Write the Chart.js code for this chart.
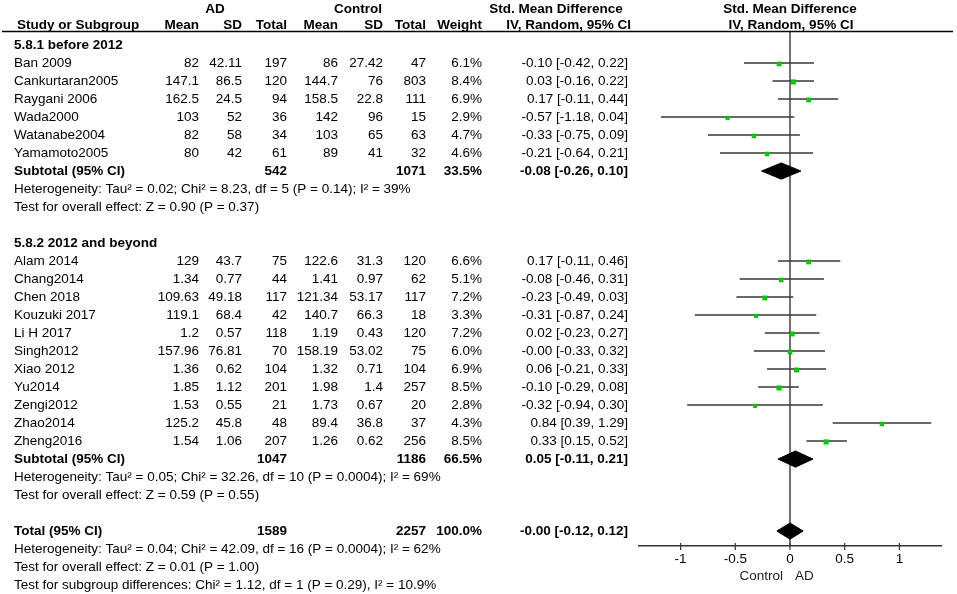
<!DOCTYPE html>
<html>
<head>
<meta charset="utf-8">
<title>Forest plot</title>
<script src="https://cdn.jsdelivr.net/npm/chart.js@4/dist/chart.umd.min.js"></script>
<style>
  html, body { margin: 0; padding: 0; background: #fff; }
  #wrap { width: 957px; height: 594px; position: relative; }
</style>
</head>
<body>
<div id="wrap"><canvas id="forest"></canvas></div>
<script>
// 研究数据
const studyNames = ['Ban 2009', 'Cankurtaran2005', 'Raygani 2006', 'Wada2000', 'Watanabe2004', 'Yamamoto2005',
  'Alam 2014', 'Chang2014', 'Chen 2018', 'Kouzuki 2017', 'Li H 2017', 'Singh2012', 'Xiao 2012', 'Yu2014',
  'Zengi2012', 'Zhao2014', 'Zheng2016'];
const studyRows = [1, 2, 3, 4, 5, 6, 12, 13, 14, 15, 16, 17, 18, 19, 20, 21, 22];
const adMean = ['82', '147.1', '162.5', '103', '82', '80', '129', '1.34', '109.63', '119.1', '1.2', '157.96', '1.36', '1.85', '1.53', '125.2', '1.54'];
const adSD = ['42.11', '86.5', '24.5', '52', '58', '42', '43.7', '0.77', '49.18', '68.4', '0.57', '76.81', '0.62', '1.12', '0.55', '45.8', '1.06'];
const adTotal = [197, 120, 94, 36, 34, 61, 75, 44, 117, 42, 118, 70, 104, 201, 21, 48, 207];
const ctlMean = ['86', '144.7', '158.5', '142', '103', '89', '122.6', '1.41', '121.34', '140.7', '1.19', '158.19', '1.32', '1.98', '1.73', '89.4', '1.26'];
const ctlSD = ['27.42', '76', '22.8', '96', '65', '41', '31.3', '0.97', '53.17', '66.3', '0.43', '53.02', '0.71', '1.4', '0.67', '36.8', '0.62'];
const ctlTotal = [47, 803, 111, 15, 63, 32, 120, 62, 117, 18, 120, 75, 104, 257, 20, 37, 256];
const weights = [6.1, 8.4, 6.9, 2.9, 4.7, 4.6, 6.6, 5.1, 7.2, 3.3, 7.2, 6.0, 6.9, 8.5, 2.8, 4.3, 8.5];
const smd = [-0.10, 0.03, 0.17, -0.57, -0.33, -0.21, 0.17, -0.08, -0.23, -0.31, 0.02, -0.00, 0.06, -0.10, -0.32, 0.84, 0.33];
const ciLow = [-0.42, -0.16, -0.11, -1.18, -0.75, -0.64, -0.11, -0.46, -0.49, -0.87, -0.23, -0.33, -0.21, -0.29, -0.94, 0.39, 0.15];
const ciHigh = [0.22, 0.22, 0.44, 0.04, 0.09, 0.21, 0.46, 0.31, 0.03, 0.24, 0.27, 0.32, 0.33, 0.08, 0.30, 1.29, 0.52];

// 合并结果（小计 / 总计）
const pooledLabels = ['Subtotal (95% CI)', 'Subtotal (95% CI)', 'Total (95% CI)'];
const pooledRows = [7, 23, 27];
const pooledAD = [542, 1047, 1589];
const pooledCtl = [1071, 1186, 2257];
const pooledWeight = ['33.5%', '66.5%', '100.0%'];
const pooledSmd = [-0.08, 0.05, -0.00];
const pooledLow = [-0.26, -0.11, -0.12];
const pooledHigh = [0.10, 0.21, 0.12];

// 分组标题与说明文字
const groupTitles = ['5.8.1 before 2012', '5.8.2 2012 and beyond'];
const groupRows = [0, 11];
const noteTexts = [
  'Heterogeneity: Tau\u00b2 = 0.02; Chi\u00b2 = 8.23, df = 5 (P = 0.14); I\u00b2 = 39%',
  'Test for overall effect: Z = 0.90 (P = 0.37)',
  'Heterogeneity: Tau\u00b2 = 0.05; Chi\u00b2 = 32.26, df = 10 (P = 0.0004); I\u00b2 = 69%',
  'Test for overall effect: Z = 0.59 (P = 0.55)',
  'Heterogeneity: Tau\u00b2 = 0.04; Chi\u00b2 = 42.09, df = 16 (P = 0.0004); I\u00b2 = 62%',
  'Test for overall effect: Z = 0.01 (P = 1.00)',
  'Test for subgroup differences: Chi\u00b2 = 1.12, df = 1 (P = 0.29), I\u00b2 = 10.9%'
];
const noteRows = [8, 9, 24, 25, 28, 29, 30];

// 坐标轴
const xTicks = [-1, -0.5, 0, 0.5, 1];
const xMin = -1.38;
const xMax = 1.38;
const yMin = -0.78;
const yMax = 27.83;

const FONT = '"Liberation Sans", Arial, sans-serif';
const FONT_SIZE = 13.5;

function fmt(v) {
  return (v < 0 || Object.is(v, -0) ? '-' : '') + Math.abs(v).toFixed(2);
}
function ciText(est, lo, hi) {
  return fmt(est) + ' [' + fmt(lo) + ', ' + fmt(hi) + ']';
}

// CI 线段（用 null 断开）
const ciSegments = [];
studyRows.forEach((row, i) => {
  ciSegments.push({ x: ciLow[i], y: row }, { x: ciHigh[i], y: row }, { x: ciHigh[i], y: null });
});

const pointData = studyRows.map((row, i) => ({ x: smd[i], y: row + 0.05 }));

const diamondSets = pooledRows.map((row, i) => ({
  type: 'line',
  order: 2,
  data: [
    { x: pooledLow[i], y: row },
    { x: pooledSmd[i], y: row - 0.45 },
    { x: pooledHigh[i], y: row },
    { x: pooledSmd[i], y: row + 0.45 },
    { x: pooledLow[i], y: row }
  ],
  borderColor: '#000',
  backgroundColor: '#000',
  borderWidth: 1,
  pointRadius: 0,
  fill: 'shape',
  tension: 0
}));

// 表格列（右对齐的 x 坐标）
const colX = { name: 14, adMean: 199, adSD: 242, adTotal: 287, ctlMean: 338, ctlSD: 383, ctlTotal: 426, weight: 482, ci: 628 };

const tablePlugin = {
  id: 'forestTable',
  afterDraw(chart) {
    const ctx = chart.ctx;
    const ys = chart.scales.y;
    const xs = chart.scales.x;
    const rowY = (r) => ys.getPixelForValue(r);

    ctx.save();
    ctx.fillStyle = '#000';
    ctx.textBaseline = 'middle';

    const text = (str, x, y, align, bold) => {
      ctx.font = (bold ? 'bold ' : '') + FONT_SIZE + 'px ' + FONT;
      ctx.textAlign = align;
      ctx.fillText(str, x, y);
    };

    // 表头
    const h1 = 9;
    const h2 = 25;
    text('AD', 215, h1, 'center', true);
    text('Control', 358, h1, 'center', true);
    text('Std. Mean Difference', 556, h1, 'center', true);
    text('Std. Mean Difference', 790, h1, 'center', true);
    text('Study or Subgroup', 17, h2, 'left', true);
    text('Mean', colX.adMean, h2, 'right', true);
    text('SD', colX.adSD, h2, 'right', true);
    text('Total', colX.adTotal, h2, 'right', true);
    text('Mean', colX.ctlMean, h2, 'right', true);
    text('SD', colX.ctlSD, h2, 'right', true);
    text('Total', colX.ctlTotal, h2, 'right', true);
    text('Weight', colX.weight, h2, 'right', true);
    text('IV, Random, 95% CI', colX.ci + 3, h2, 'right', true);
    text('IV, Random, 95% CI', 791, h2, 'center', true);

    ctx.strokeStyle = '#000';
    ctx.lineWidth = 1.5;
    ctx.beginPath();
    ctx.moveTo(2, 31.5);
    ctx.lineTo(953, 31.5);
    ctx.stroke();

    // 分组标题
    groupTitles.forEach((t, i) => text(t, colX.name, rowY(groupRows[i]), 'left', true));

    // 研究行
    studyNames.forEach((name, i) => {
      const y = rowY(studyRows[i]);
      text(name, colX.name, y, 'left', false);
      text(adMean[i], colX.adMean, y, 'right', false);
      text(adSD[i], colX.adSD, y, 'right', false);
      text(String(adTotal[i]), colX.adTotal, y, 'right', false);
      text(ctlMean[i], colX.ctlMean, y, 'right', false);
      text(ctlSD[i], colX.ctlSD, y, 'right', false);
      text(String(ctlTotal[i]), colX.ctlTotal, y, 'right', false);
      text(weights[i].toFixed(1) + '%', colX.weight, y, 'right', false);
      text(ciText(smd[i], ciLow[i], ciHigh[i]), colX.ci, y, 'right', false);
    });

    // 合并行
    pooledLabels.forEach((label, i) => {
      const y = rowY(pooledRows[i]);
      text(label, colX.name, y, 'left', true);
      text(String(pooledAD[i]), colX.adTotal, y, 'right', true);
      text(String(pooledCtl[i]), colX.ctlTotal, y, 'right', true);
      text(pooledWeight[i], colX.weight, y, 'right', true);
      text(ciText(pooledSmd[i], pooledLow[i], pooledHigh[i]), colX.ci, y, 'right', true);
    });

    // 说明文字
    noteTexts.forEach((t, i) => text(t, colX.name, rowY(noteRows[i]), 'left', false));

    // 坐标轴刻度（穿过轴线）
    const axisY = xs.top;
    ctx.strokeStyle = '#333';
    ctx.lineWidth = 1.2;
    xTicks.forEach((v) => {
      const px = xs.getPixelForValue(v);
      ctx.beginPath();
      ctx.moveTo(px, axisY - 3);
      ctx.lineTo(px, axisY + 4);
      ctx.stroke();
    });

    // 方向标签
    const zeroX = xs.getPixelForValue(0);
    ctx.fillStyle = '#222';
    text('Control', zeroX - 7, 576, 'right', false);
    text('AD', zeroX + 5, 576, 'left', false);

    ctx.restore();
  }
};

new Chart(document.getElementById('forest'), {
  type: 'scatter',
  data: {
    datasets: [
      {
        type: 'line',
        label: 'zero',
        order: 3,
        data: [{ x: 0, y: yMin }, { x: 0, y: yMax }],
        borderColor: '#444',
        borderWidth: 1.5,
        pointRadius: 0
      },
      {
        type: 'line',
        label: 'CI',
        order: 1,
        data: ciSegments,
        borderColor: '#383838',
        borderWidth: 1.4,
        pointRadius: 0,
        spanGaps: false,
        tension: 0
      },
      ...diamondSets,
      {
        type: 'scatter',
        label: 'SMD',
        order: 0,
        data: pointData,
        pointStyle: 'rect',
        pointRadius: (c) => 2.6 + (weights[c.dataIndex] || 0) * 0.12,
        backgroundColor: '#00c800',
        borderColor: '#00c800',
        borderWidth: 0
      }
    ]
  },
  options: {
    responsive: true,
    maintainAspectRatio: false,
    animation: false,
    layout: { padding: { left: 639, right: 16, top: 31, bottom: 0 } },
    plugins: {
      legend: { display: false },
      tooltip: { enabled: false }
    },
    scales: {
      x: {
        type: 'linear',
        min: xMin,
        max: xMax,
        afterBuildTicks: (scale) => {
          scale.ticks = xTicks.map((v) => ({ value: v }));
        },
        afterFit: (scale) => {
          scale.height = 48;
        },
        grid: { display: false, drawTicks: false },
        border: { display: true, color: '#333', width: 1.5 },
        ticks: {
          padding: 5,
          color: '#000',
          font: { family: FONT, size: FONT_SIZE },
          callback: (v) => String(v)
        }
      },
      y: {
        type: 'linear',
        display: false,
        reverse: true,
        min: yMin,
        max: yMax
      }
    }
  },
  plugins: [tablePlugin]
});
</script>
</body>
</html>
